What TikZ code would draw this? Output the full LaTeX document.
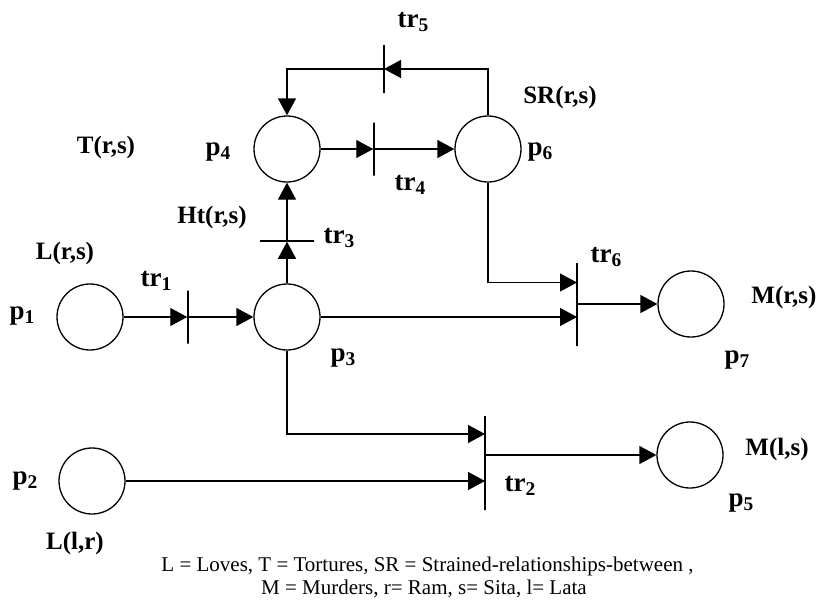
\documentclass[tikz,border=0pt]{standalone}
\usepackage{fontspec}
\usepackage{graphicx}
\setmainfont{Liberation Serif}
\usetikzlibrary{arrows.meta}
\newcommand{\sbs}[1]{\raisebox{-0.15em}{\scalebox{0.72}{#1}}}
\begin{document}
\begin{tikzpicture}[x=1pt,y=-1pt,
  place/.style={circle, draw, line width=1.3pt, minimum size=66pt, inner sep=0pt},
  tbar/.style={rectangle, draw, line width=1.5pt, inner sep=0pt, minimum width=0pt, minimum height=0pt},
  arr/.style={line width=1.3pt, -{Triangle[length=17pt,width=18pt]}},
  lbl/.style={font=\bfseries\fontsize{27}{27}\selectfont, inner sep=0pt},
  pred/.style={font=\bfseries\fontsize{25}{25}\selectfont, inner sep=0pt},
  captxt/.style={font=\fontsize{21}{21}\selectfont, inner sep=0pt, anchor=base}]
\useasboundingbox (0,0) rectangle (822,600);
% places
\node[place] (p1) at (90,317) {};
\node[place] (p2) at (92,481) {};
\node[place] (p3) at (287,317) {};
\node[place] (p4) at (287,149) {};
\node[place] (p5) at (690,455) {};
\node[place] (p6) at (488,149) {};
\node[place] (p7) at (691,304) {};
% transitions
\node[tbar, minimum height=53pt] (tr1) at (188,317) {};
\node[tbar, minimum height=94pt] (tr2) at (485,463) {};
\node[tbar, minimum width=54pt] (tr3) at (287,241) {};
\node[tbar, minimum height=53pt] (tr4) at (374,149) {};
\node[tbar, minimum height=48pt] (tr5) at (384,69) {};
\node[tbar, minimum height=83pt] (tr6) at (577,304.5) {};
% arcs
\draw[arr] (p1) -- (tr1);
\draw[arr] (tr1) -- (p3);
\draw[arr] (p3) -- (tr3);
\draw[arr] (tr3) -- (p4);
\draw[arr] (p4) -- (tr4);
\draw[arr] (tr4) -- (p6);
\draw[arr] (p6.north) |- (tr5.center);
\draw[arr] (tr5.center) -| (p4.north);
\draw[arr] (p6.south) |- ([yshift=22pt]tr6.center);
\draw[arr] (p3.east) -- (p3.east -| tr6.center);
\draw[arr] (tr6.center |- p7) -- (p7);
\draw[arr] (p3.south) |- ([yshift=29pt]tr2.center);
\draw[arr] (p2.east) -- (p2.east -| tr2.center);
\draw[arr] (tr2.center |- p5) -- (p5);
% labels
\node[lbl] (l-tr5) at (413,22) {tr\sbs{5}};
\node[pred] (l-sr) at (560,97) {SR(r,s)};
\node[pred] (l-t) at (106,147) {T(r,s)};
\node[lbl] (l-p4) at (218,152) {p\sbs{4}};
\node[lbl] (l-p6) at (540,152) {p\sbs{6}};
\node[lbl] (l-tr4) at (410,185) {tr\sbs{4}};
\node[pred] (l-ht) at (212,217) {Ht(r,s)};
\node[lbl] (l-tr3) at (339,238) {tr\sbs{3}};
\node[pred] (l-lrs) at (65,253) {L(r,s)};
\node[lbl] (l-tr1) at (156,281) {tr\sbs{1}};
\node[lbl] (l-p1) at (22,316) {p\sbs{1}};
\node[lbl] (l-p3) at (343,358) {p\sbs{3}};
\node[lbl] (l-tr6) at (606,257) {tr\sbs{6}};
\node[pred] (l-mrs) at (784,297) {M(r,s)};
\node[lbl] (l-p7) at (737,360) {p\sbs{7}};
\node[lbl] (l-p2) at (25,481) {p\sbs{2}};
\node[pred] (l-llr) at (75,543) {L(l,r)};
\node[lbl] (l-tr2) at (520,486) {tr\sbs{2}};
\node[pred] (l-mls) at (777,449) {M(l,s)};
\node[lbl] (l-p5) at (741,503) {p\sbs{5}};
\node[captxt] (c1) at (427.5,571) {L = Loves, T = Tortures, SR = Strained-relationships-between ,};
\node[captxt] (c2) at (424,594) {M = Murders, r= Ram, s= Sita, l= Lata};
\end{tikzpicture}
\end{document}
